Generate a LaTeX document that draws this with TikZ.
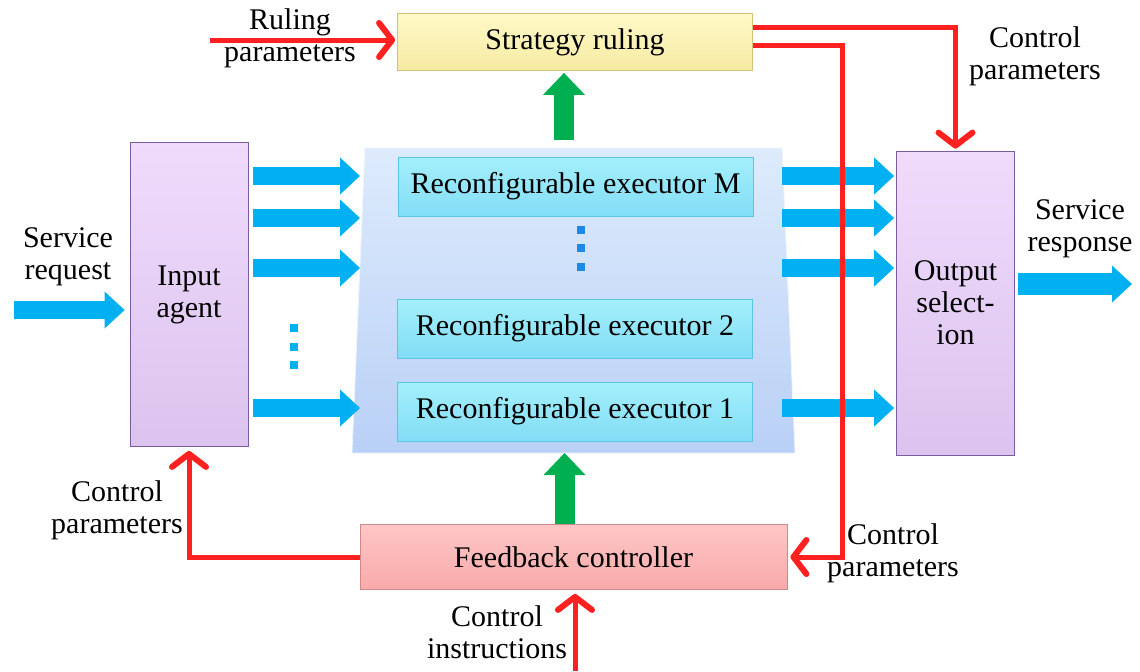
\documentclass[tikz,border=0pt]{standalone}
\usepackage{fontspec}
\setmainfont{Liberation Serif}
\usetikzlibrary{arrows.meta}
\definecolor{redln}{HTML}{FF2020}
\definecolor{bluefat}{HTML}{00B0F0}
\definecolor{greenfat}{HTML}{00B050}
\definecolor{greenrim}{HTML}{4FC3F7}
\definecolor{dotblue}{HTML}{1E88E5}
\definecolor{strattop}{HTML}{FFF9C8}
\definecolor{stratbot}{HTML}{F6EAA2}
\definecolor{stratedge}{HTML}{D4C27A}
\definecolor{agenttop}{HTML}{F0DBFC}
\definecolor{agentbot}{HTML}{DCC3EE}
\definecolor{agentedge}{HTML}{7B5C9E}
\definecolor{exectop}{HTML}{A4EFFC}
\definecolor{execbot}{HTML}{82DDF5}
\definecolor{execedge}{HTML}{5BC5E6}
\definecolor{fbtop}{HTML}{FFC6C6}
\definecolor{fbbot}{HTML}{F8AAAA}
\definecolor{fbedge}{HTML}{D08888}
\definecolor{paneltop}{HTML}{DDEBFC}
\definecolor{panelbot}{HTML}{B9D0F6}
\tikzset{
  box/.style = {draw, align=center, inner sep=0pt, text centered,
    font=\fontsize{15}{16}\selectfont},
  lbl/.style = {align=center, inner sep=0pt,
    font=\fontsize{15}{16}\selectfont},
  ruling/.style = {box, draw=stratedge, top color=strattop,
    bottom color=stratbot, minimum width=177.5pt,
    minimum height=28.5pt},% strategy box
  agent/.style = {box, draw=agentedge, top color=agenttop,
    bottom color=agentbot, minimum width=59pt, minimum height=152pt},% input / output
  execbox/.style = {box, draw=execedge, top color=exectop,
    bottom color=execbot, minimum width=177.5pt, minimum height=29.5pt},
  feedbox/.style = {box, draw=fbedge, top color=fbtop, bottom color=fbbot,
    minimum width=213.5pt, minimum height=32.5pt},
  dotsq/.style = {inner sep=0pt, minimum size=4pt},
  redarr/.style = {draw=redln, line width=2.5pt,
    -{Straight Barb[length=6.5pt,width=17pt,round,line width=3pt]}},
  bluearr/.style = {draw=bluefat, line width=9pt,
    -{Triangle[length=10pt,width=18.5pt,line width=0pt]}},
  greenarr/.style = {draw=greenfat, line width=10pt,
    -{Triangle[length=11pt,width=21pt,line width=0pt]}}
}
\begin{document}
\begin{tikzpicture}[x=0.5pt,y=-0.5pt]
\useasboundingbox (0,0) rectangle (1140,671);
% executor panel
\path[top color=paneltop, bottom color=panelbot, draw=paneltop!80!blue!20]
  (365,148) -- (782,148) -- (795,453) -- (352,453) -- cycle;
\coordinate (panelL) at (360,0);
\coordinate (panelR) at (782,0);

\node [ruling] (strat) at (575,42) {Strategy ruling};
\node [agent] (inp) at (189,294.5) {Input\\agent};
\node [agent] (outsel) at (955.5,303) {Output\\select-\\ion};
\node [execbox] (exM) at (575.5,186.5) {Reconfigurable executor M};
\node [execbox] (ex2) at (575,328.5) {Reconfigurable executor 2};
\node [execbox] (ex1) at (575,411.5) {Reconfigurable executor 1};
\node [feedbox] (fb) at (573.5,557) {Feedback controller};

\node [dotsq, fill=dotblue] (pd1) at (581,230) {};
\node [dotsq, fill=dotblue] (pd2) at (581,248) {};
\node [dotsq, fill=dotblue] (pd3) at (581,267) {};
\node [dotsq, fill=bluefat] (id1) at (294,328) {};
\node [dotsq, fill=bluefat] (id2) at (294,347) {};
\node [dotsq, fill=bluefat] (id3) at (294,365) {};

\node [lbl] (rulp) at (290,38) {Ruling\\parameters};
\node [lbl] (ctrlTR) at (1035,56) {Control\\parameters};
\node [lbl] (sreq) at (68,257) {Service\\request};
\node [lbl] (sresp) at (1080,229) {Service\\response};
\node [lbl] (ctrlL) at (117,510) {Control\\parameters};
\node [lbl] (ctrlR) at (893,553) {Control\\parameters};
\node [lbl] (ctrlI) at (497,632) {Control\\instructions};

\coordinate (rulin) at (210,40);
\coordinate (reqin) at (14,310);
\coordinate (respout) at (1132,284);
\coordinate (instin) at (575,671);
\coordinate (loopR) at (842,0);

% input agent to executors
\draw [bluearr] ([xshift=2.5pt]inp.east |- 0,176) -- (panelL |- 0,176);
\draw [bluearr] ([xshift=2.5pt]inp.east |- 0,218) -- (panelL |- 0,218);
\draw [bluearr] ([xshift=2.5pt]inp.east |- 0,268) -- (panelL |- 0,268);
\draw [bluearr] ([xshift=2.5pt]inp.east |- 0,408) -- (panelL |- 0,408);
% executors to output selection
\draw [bluearr] (panelR |- 0,176) -- ([xshift=-1pt]outsel.west |- 0,176);
\draw [bluearr] (panelR |- 0,218) -- ([xshift=-1pt]outsel.west |- 0,218);
\draw [bluearr] (panelR |- 0,268) -- ([xshift=-1pt]outsel.west |- 0,268);
\draw [bluearr] (panelR |- 0,408) -- ([xshift=-1pt]outsel.west |- 0,408);
\draw [bluearr] (reqin) -- ([xshift=-2.5pt]inp.west |- reqin);
\draw [bluearr, line width=11pt] ([xshift=1.5pt]outsel.east |- respout) -- (respout);

\draw [greenarr] ([xshift=-5.5pt]strat.south |- 0,140) -- ([xshift=-5.5pt,yshift=-1pt]strat.south);
\draw [greenarr] ([xshift=-4.5pt]fb.north) -- ([xshift=-4.5pt]fb.north |- 0,453);

\draw [redarr] (rulin) -- ([xshift=-1pt]strat.west |- rulin);
\draw [redarr] (strat.east |- 0,27) -| ([yshift=1pt]outsel.north);
\draw [redarr] (strat.east |- 0,45) -| (loopR |- fb.east) -- ([xshift=1.5pt]fb.east);
\draw [redarr] (fb.west) -| ([yshift=-2pt]inp.south);
\draw [redarr] (instin) -- ([yshift=-2pt]fb.south -| instin);
\end{tikzpicture}
\end{document}
